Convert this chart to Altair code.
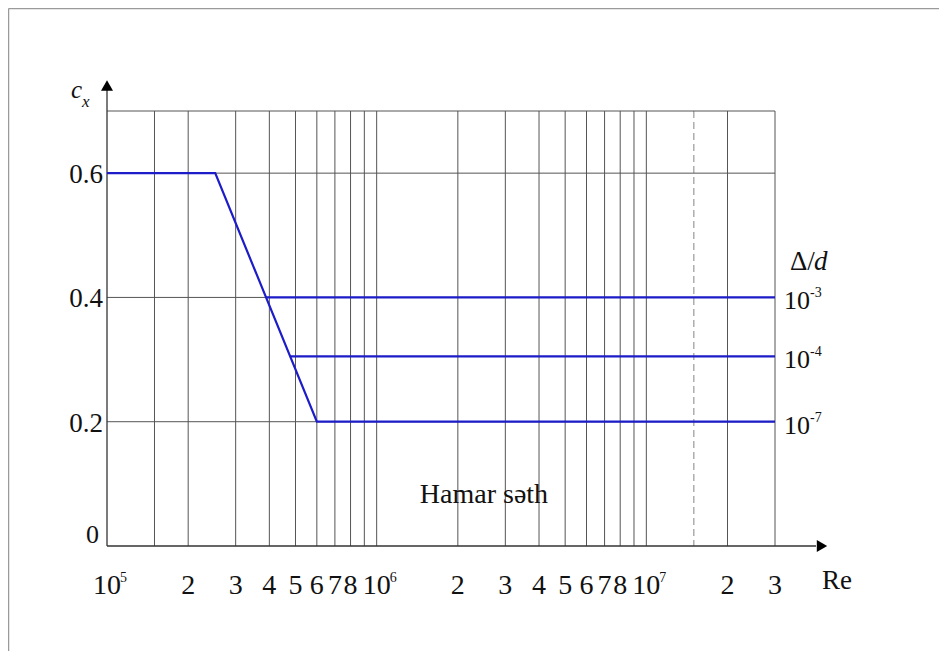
import altair as alt
import pandas as pd

# ---------------- data ----------------
# vertical grid lines (Re values)
grid_re = [1.5e5, 2e5, 3e5, 4e5, 5e5, 6e5, 7e5, 8e5, 9e5, 1e6,
           2e6, 3e6, 4e6, 5e6, 6e6, 7e6, 8e6, 9e6, 1e7, 2e7, 3e7]
dashed_re = [1.5e7]
# horizontal grid lines (c_x values)
grid_cx = [0.2, 0.4, 0.6, 0.7]

# x tick labels
tick_re = [2e5, 3e5, 4e5, 5e5, 6e5, 7e5, 8e5,
           2e6, 3e6, 4e6, 5e6, 6e6, 7e6, 8e6, 2e7, 3e7]
tick_lab = ["2", "3", "4", "5", "6", "7", "8",
            "2", "3", "4", "5", "6", "7", "8", "2", "3"]
decade_re = [1e5, 1e6, 1e7]
decade_exp = ["5", "6", "7"]

# y tick labels
ytick_cx = [0.6, 0.4, 0.2]
ytick_lab = ["0.6", "0.4", "0.2"]

# curves
main_re = [1e5, 2.52e5, 6e5, 3e7]      # smooth surface (Delta/d = 1e-7)
main_cx = [0.6, 0.6, 0.2, 0.2]
branch_start_re = [3.88e5, 4.78e5]      # rough branches
branch_cx = [0.4, 0.305]
end_re = 3e7
level_cx = [0.4, 0.305, 0.2]
level_exp = ["-3", "-4", "-7"]

# ---------------- tables ----------------
rows = [{"re": r, "cx": c, "s": "1e-7", "o": i} for i, (r, c) in enumerate(zip(main_re, main_cx))]
for k, (r, c) in enumerate(zip(branch_start_re, branch_cx)):
    rows.append({"re": r, "cx": c, "s": f"b{k}", "o": 0})
    rows.append({"re": end_re, "cx": c, "s": f"b{k}", "o": 1})
curves = pd.DataFrame(rows)

grid_v = pd.DataFrame({"re": grid_re})
grid_d = pd.DataFrame({"re": dashed_re})
grid_h = pd.DataFrame({"cx": grid_cx})
ticks = pd.DataFrame({"re": tick_re, "lab": tick_lab})
decades = pd.DataFrame({"re": decade_re, "exp": decade_exp, "ten": ["10"] * 3})
yt = pd.DataFrame({"cx": ytick_cx, "lab": ytick_lab})
lev = pd.DataFrame({"cx": level_cx, "exp": level_exp, "ten": ["10"] * 3})
zero = pd.DataFrame({"cx": [0.0], "lab": ["0"]})
note = pd.DataFrame({"re": [2.5e6], "lab": ["Hamar səth"]})

PL, PT, PR, PB = 99, 103, 164, 105
W, H = 668, 435
SERIF = "Liberation Serif"
BLUE = "#1c1cc8"
GRID = "#555555"
S = 2  # shift of annotations so that they keep their place

xs = alt.Scale(type="log", domain=[1e5, 3e7])
ys = alt.Scale(domain=[0, 0.7])
X = alt.X("re:Q", scale=xs, axis=None)
Y = alt.Y("cx:Q", scale=ys, axis=None)

vlines = alt.Chart(grid_v).mark_rule(color=GRID, strokeWidth=1).encode(x=X)
dline = alt.Chart(grid_d).mark_rule(color="#999999", strokeWidth=1.2, strokeDash=[7, 4]).encode(x=X)
hlines = alt.Chart(grid_h).mark_rule(color=GRID, strokeWidth=1).encode(y=Y)

# axes with arrows
yaxis = alt.Chart(zero).mark_rule(color="#333333", strokeWidth=1.3).encode(
    x=alt.value(0), y=alt.value(H), y2=alt.value(-21))
xaxis = alt.Chart(zero).mark_rule(color="#333333", strokeWidth=1.3).encode(
    y=alt.value(H), x=alt.value(0), x2=alt.value(707 + S))
yarrow = alt.Chart(zero).mark_point(shape="triangle-up", filled=True, color="black", size=144, opacity=1).encode(
    x=alt.value(0), y=alt.value(-25.5))
xarrow = alt.Chart(zero).mark_point(shape="triangle-right", filled=True, color="black", size=144, opacity=1).encode(
    x=alt.value(713 + S), y=alt.value(H))

# frame of the picture
frame_l = alt.Chart(zero).mark_rule(color="#9a9a9a", strokeWidth=1.5).encode(
    x=alt.value(0.5 - PL), y=alt.value(0.5 - PT), y2=alt.value(H + PB))
frame_t = alt.Chart(zero).mark_rule(color="#9a9a9a", strokeWidth=1.5).encode(
    x=alt.value(0.5 - PL), x2=alt.value(W + PR), y=alt.value(0.5 - PT))

lines = alt.Chart(curves).mark_line(color=BLUE, strokeWidth=2.2).encode(
    x=X, y=Y, detail="s:N", order="o:Q")

tick_text = alt.Chart(ticks).mark_text(font=SERIF, fontSize=28, baseline="alphabetic", align="center", color="#111").encode(
    x=X, y=alt.value(483), text="lab:N")
dec_text = alt.Chart(decades).mark_text(font=SERIF, fontSize=28, baseline="alphabetic", align="center", color="#111").encode(
    x=X, y=alt.value(483), text="ten:N")
dec_exp = alt.Chart(decades).mark_text(font=SERIF, fontSize=14, baseline="alphabetic", align="left", dx=13, color="#111").encode(
    x=X, y=alt.value(471), text="exp:N")

ytext = alt.Chart(yt).mark_text(font=SERIF, fontSize=27, baseline="alphabetic", align="right", dy=10, color="#111").encode(
    x=alt.value(-6 + S), y=Y, text="lab:N")
ztext = alt.Chart(zero).mark_text(font=SERIF, fontSize=26, baseline="alphabetic", align="right", color="#111").encode(
    x=alt.value(-10 + S), y=alt.value(H - 3), text="lab:N")

lev_ten = alt.Chart(lev).mark_text(font=SERIF, fontSize=26, baseline="alphabetic", align="left", dy=12, color="#111").encode(
    x=alt.value(675 + S), y=Y, text="ten:N")
lev_exp = alt.Chart(lev).mark_text(font=SERIF, fontSize=14, baseline="alphabetic", align="left", dy=0, color="#111").encode(
    x=alt.value(701 + S), y=Y, text="exp:N")

labels = pd.DataFrame({"t": ["Δ/", "d", "Re", "c", "x"]})
delta = alt.Chart(labels[labels.t == "Δ/"]).mark_text(font=SERIF, fontSize=27, baseline="alphabetic", align="left", color="#111").encode(
    x=alt.value(681 + S), y=alt.value(159), text="t:N")
dsym = alt.Chart(labels[labels.t == "d"]).mark_text(font=SERIF, fontSize=27, fontStyle="italic", baseline="alphabetic", align="left", color="#111").encode(
    x=alt.value(705 + S), y=alt.value(159), text="t:N")
re_lab = alt.Chart(labels[labels.t == "Re"]).mark_text(font=SERIF, fontSize=27, baseline="alphabetic", align="left", color="#111").encode(
    x=alt.value(713 + S), y=alt.value(478), text="t:N")
c_lab = alt.Chart(labels[labels.t == "c"]).mark_text(font=SERIF, fontSize=25, fontStyle="italic", baseline="alphabetic", align="left", color="#111").encode(
    x=alt.value(-38 + S), y=alt.value(-13), text="t:N")
x_lab = alt.Chart(labels[labels.t == "x"]).mark_text(font=SERIF, fontSize=17, fontStyle="italic", baseline="alphabetic", align="left", color="#111").encode(
    x=alt.value(-27 + S), y=alt.value(-4), text="t:N")

note_text = alt.Chart(note).mark_text(font=SERIF, fontSize=28, baseline="alphabetic", align="center", color="#111").encode(
    x=X, y=alt.value(392), text="lab:N")

chart = alt.layer(
    frame_l, frame_t, vlines, dline, hlines, yaxis, xaxis, yarrow, xarrow, lines,
    tick_text, dec_text, dec_exp, ytext, ztext, lev_ten, lev_exp,
    delta, dsym, re_lab, c_lab, x_lab, note_text
).properties(
    width=W, height=H,
    autosize=alt.AutoSizeParams(type="none"),
    padding={"left": PL, "top": PT, "right": PR, "bottom": PB},
).configure_view(stroke=None)

chart.save("out.html", embed_options={"renderer": "svg", "actions": False})
